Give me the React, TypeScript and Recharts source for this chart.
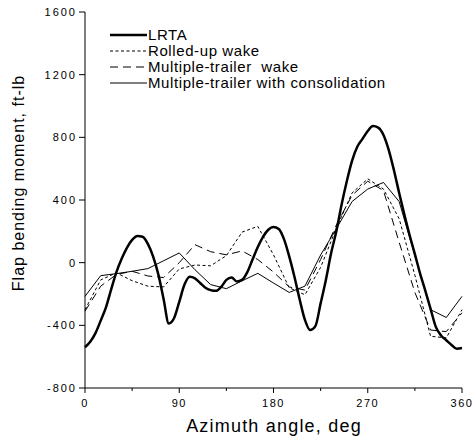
import { LineChart, Line, XAxis, YAxis, Legend, Label } from "recharts";

const FONT = "Arial, 'Liberation Sans', sans-serif";

// azimuth grid of the LRTA curve (5 deg) and of the wake models (15 deg)
const lrtaAngles = [
  0, 5, 10, 15, 20, 25, 30, 35, 40, 45, 50, 55, 60, 65, 70, 75, 80, 85, 90,
  95, 100, 105, 110, 115, 120, 125, 130, 135, 140, 145, 150, 155, 160, 165,
  170, 175, 180, 185, 190, 195, 200, 205, 210, 215, 220, 225, 230, 235, 240,
  245, 250, 255, 260, 265, 270, 275, 280, 285, 290, 295, 300, 305, 310, 315,
  320, 325, 330, 335, 340, 345, 350, 355, 360,
];
const lrtaValues = [
  -540, -505, -450, -370, -285, -170, -60, 25, 95, 145, 170, 165, 120, 40,
  -75, -230, -388, -355, -250, -140, -90, -100, -130, -160, -175, -180, -155,
  -110, -95, -120, -110, -60, 20, 100, 165, 210, 228, 215, 150, 40, -90, -235,
  -365, -430, -405, -260, -110, 60, 200, 370, 520, 650, 740, 790, 840, 872,
  862, 815, 720, 590, 445, 305, 175, 55, -70, -180, -295, -410, -465, -495,
  -525, -550, -545,
];

const wakeAngles = [
  0, 15, 30, 45, 60, 75, 90, 105, 120, 135, 150, 165, 180, 195, 210, 225, 240,
  255, 270, 285, 300, 315, 330, 345, 360,
];
const rolledUpValues = [
  -300, -110, -65, -115, -150, -155, -40, -15, -20, 45, 195, 232, 50, -160,
  -205, -30, 220, 445, 535, 470, 280, -80, -470, -480, -300,
];
const multiTrailerValues = [
  -310, -150, -75, -55, -85, -95, 0, 115, 70, 50, 75, 20, -60, -155, -175, 20,
  240, 430, 520, 460, 130, -190, -430, -440, -320,
];
const consolidationValues = [
  -215, -83, -70, -55, -38, 12, 62, -45, -140, -166, -116, -68, -130, -190,
  -150, 49, 217, 390, 470, 512, 390, 45, -300, -350, -215,
];

const xTicks = [0, 45, 90, 135, 180, 225, 270, 315, 360];
const yTicks = [-800, -400, 0, 400, 800, 1200, 1600];

const series = [
  { name: "LRTA", width: 2.5, dash: undefined },
  { name: "Rolled-up wake", width: 1, dash: "3 2.5" },
  { name: "Multiple-trailer  wake", width: 1, dash: "8 5" },
  { name: "Multiple-trailer with consolidation", width: 1, dash: undefined },
];

const toPoints = (angles: number[], values: number[]) =>
  angles.map((deg, i) => ({ deg, v: values[i] }));

function XTick({ x, y, payload }: any) {
  const major = payload.value % 90 === 0;
  return (
    <g>
      <line x1={x} x2={x} y1={y} y2={y + (major ? 5 : 3)} stroke="#000" />
      {major && (
        <text
          x={x}
          y={y + 19}
          textAnchor="middle"
          fontSize={11}
          fontFamily={FONT}
          fontWeight={400}
          letterSpacing={1.5}
          fill="#000"
        >
          {payload.value}
        </text>
      )}
    </g>
  );
}

function LegendBox() {
  return (
    <div
      style={{
        fontFamily: FONT,
        fontSize: 15,
        fontWeight: 400,
        letterSpacing: 0.6,
        color: "#000",
        lineHeight: "16px",
      }}
    >
      {series.map((s) => (
        <div key={s.name} style={{ display: "flex", alignItems: "center", height: 16 }}>
          <svg width={38} height={16}>
            <line
              x1={0}
              x2={37}
              y1={8}
              y2={8}
              stroke="#000"
              strokeWidth={s.width}
              strokeDasharray={s.dash}
            />
          </svg>
          <span style={{ whiteSpace: "pre" }}>{s.name}</span>
        </div>
      ))}
    </div>
  );
}

export default function App() {
  const data = [
    toPoints(lrtaAngles, lrtaValues),
    toPoints(wakeAngles, rolledUpValues),
    toPoints(wakeAngles, multiTrailerValues),
    toPoints(wakeAngles, consolidationValues),
  ];
  return (
    <div style={{ position: "absolute", left: 0, top: 0, background: "#fff" }}>
      <LineChart
        width={475}
        height={441}
        margin={{ top: 12, right: 13, bottom: 0, left: 0 }}
      >
        <XAxis
          type="number"
          dataKey="deg"
          domain={[0, 360]}
          ticks={xTicks}
          interval={0}
          height={53}
          stroke="#000"
          tickLine={false}
          tickSize={0}
          tickMargin={0}
          tick={<XTick />}
        >
          <Label
            content={() => (
              <text
                x={274}
                y={432}
                textAnchor="middle"
                fontSize={18}
                fontFamily={FONT}
                fontWeight={400}
                letterSpacing={1.2}
                fill="#000"
              >
                Azimuth angle, deg
              </text>
            )}
          />
        </XAxis>
        <YAxis
          type="number"
          domain={[-800, 1600]}
          ticks={yTicks}
          interval={0}
          width={85}
          stroke="#000"
          tickSize={6}
          tickMargin={2}
          tick={{
            fill: "#000",
            fontSize: 11,
            fontFamily: FONT,
            fontWeight: 400,
            letterSpacing: 2,
          }}
        >
          <Label
            content={() => (
              <text
                x={18}
                y={183}
                transform="rotate(-90, 18, 183)"
                textAnchor="middle"
                dominantBaseline="central"
                fontSize={16}
                fontFamily={FONT}
                fontWeight={400}
                letterSpacing={1}
                fill="#000"
              >
                Flap bending moment, ft-lb
              </text>
            )}
          />
        </YAxis>
        <Legend
          layout="horizontal"
          verticalAlign="middle"
          align="center"
          wrapperStyle={{ top: 27, left: 110, width: "auto" }}
          content={() => <LegendBox />}
        />
        {series.map((s, i) => (
          <Line
            key={s.name}
            data={data[i]}
            dataKey="v"
            name={s.name}
            type={i === 0 ? "monotone" : "linear"}
            stroke="#000"
            strokeWidth={s.width}
            strokeDasharray={s.dash}
            dot={false}
            activeDot={false}
            isAnimationActive={false}
          />
        ))}
      </LineChart>
    </div>
  );
}
